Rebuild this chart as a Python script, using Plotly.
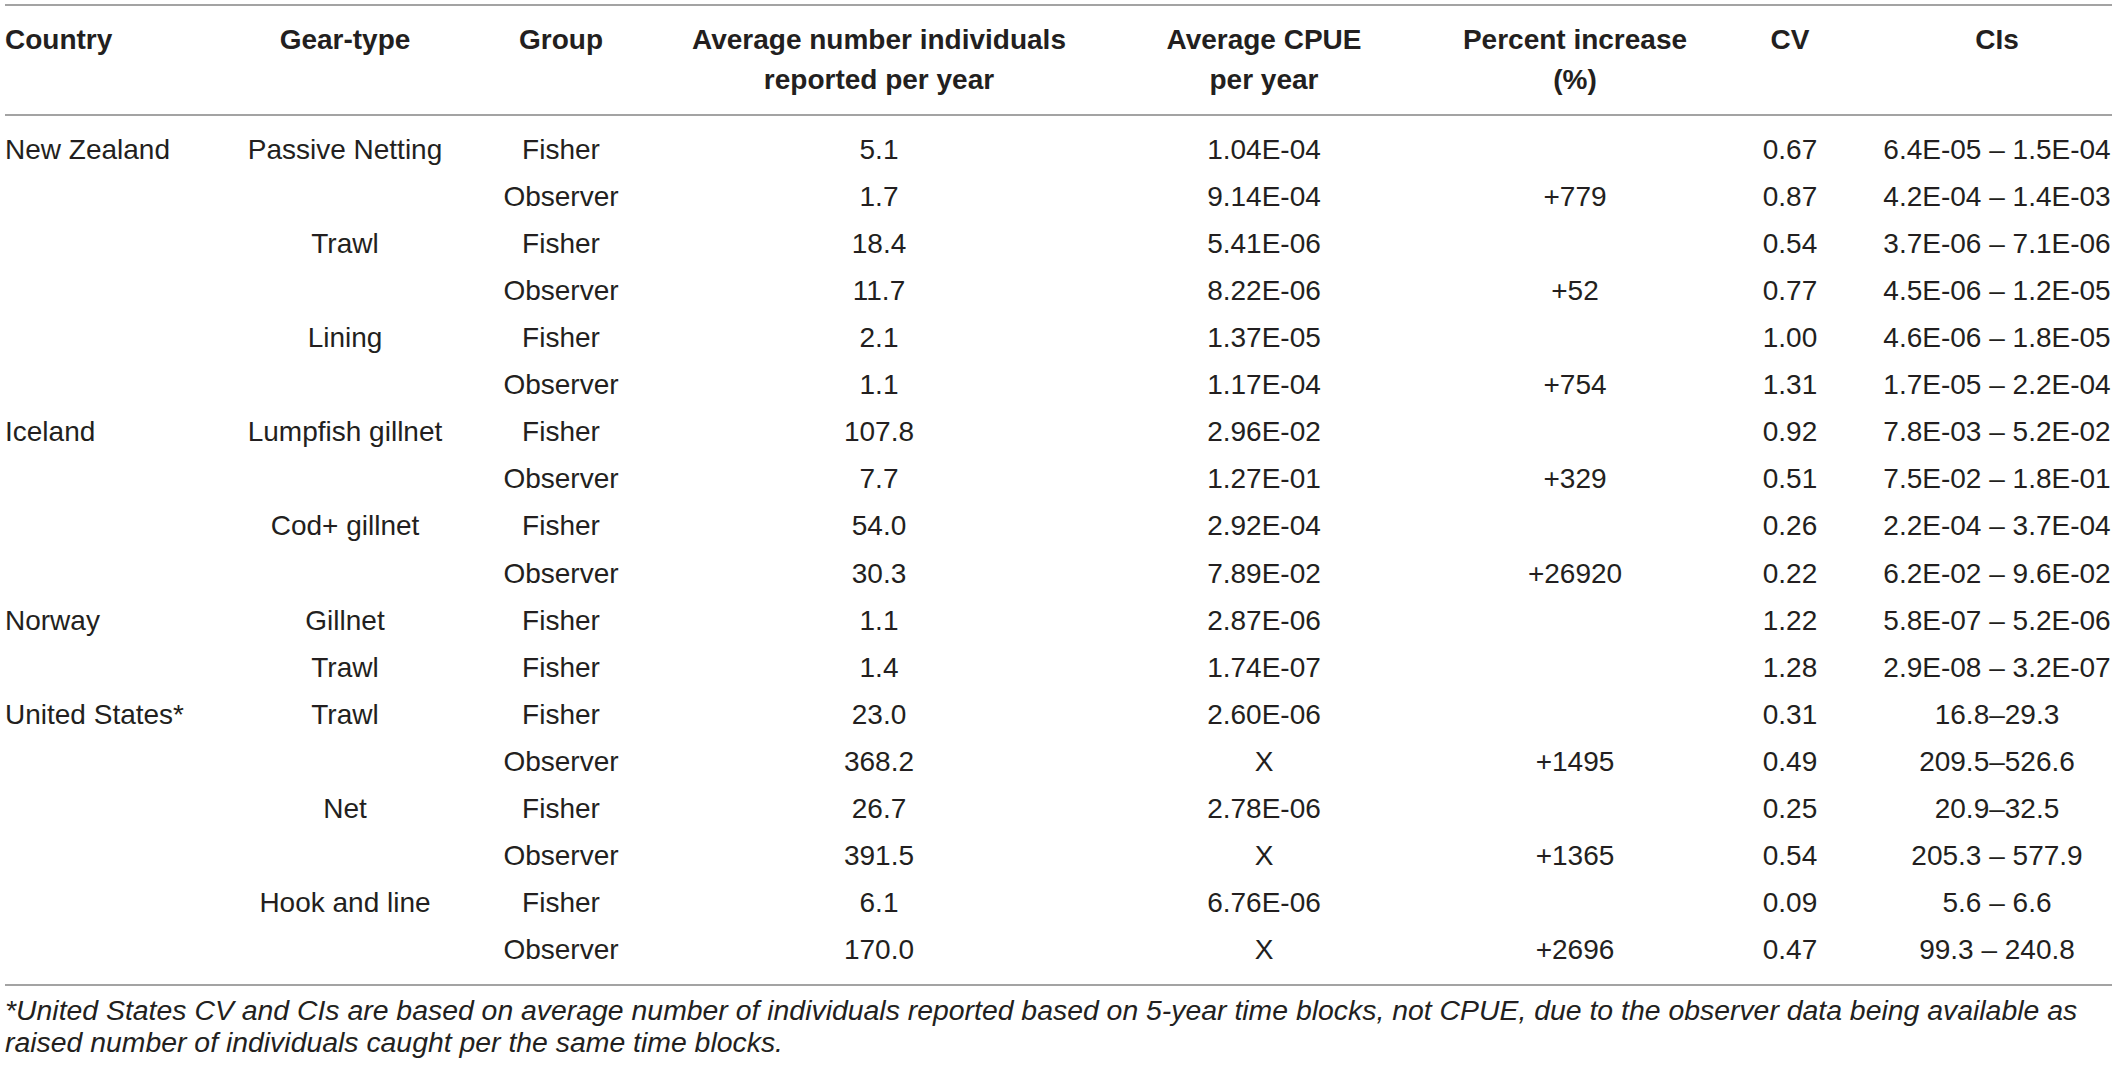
import plotly.graph_objects as go

# Table contents
headers = ["Country", "Gear-type", "Group", "Average number individuals<br>reported per year",
           "Average CPUE<br>per year", "Percent increase<br>(%)", "CV", "CIs"]

country = ["New Zealand", "", "", "", "", "", "Iceland", "", "", "", "Norway", "",
           "United States*", "", "", "", "", ""]
gear = ["Passive Netting", "", "Trawl", "", "Lining", "", "Lumpfish gillnet", "",
        "Cod+ gillnet", "", "Gillnet", "Trawl", "Trawl", "", "Net", "", "Hook and line", ""]
group = ["Fisher", "Observer", "Fisher", "Observer", "Fisher", "Observer", "Fisher", "Observer",
         "Fisher", "Observer", "Fisher", "Fisher", "Fisher", "Observer", "Fisher", "Observer",
         "Fisher", "Observer"]
avg_individuals = ["5.1", "1.7", "18.4", "11.7", "2.1", "1.1", "107.8", "7.7", "54.0", "30.3",
                   "1.1", "1.4", "23.0", "368.2", "26.7", "391.5", "6.1", "170.0"]
avg_cpue = ["1.04E-04", "9.14E-04", "5.41E-06", "8.22E-06", "1.37E-05", "1.17E-04", "2.96E-02",
            "1.27E-01", "2.92E-04", "7.89E-02", "2.87E-06", "1.74E-07", "2.60E-06", "X",
            "2.78E-06", "X", "6.76E-06", "X"]
pct_increase = ["", "+779", "", "+52", "", "+754", "", "+329", "", "+26920", "", "", "",
                "+1495", "", "+1365", "", "+2696"]
cv = ["0.67", "0.87", "0.54", "0.77", "1.00", "1.31", "0.92", "0.51", "0.26", "0.22", "1.22",
      "1.28", "0.31", "0.49", "0.25", "0.54", "0.09", "0.47"]
cis = ["6.4E-05 – 1.5E-04", "4.2E-04 – 1.4E-03", "3.7E-06 – 7.1E-06", "4.5E-06 – 1.2E-05",
       "4.6E-06 – 1.8E-05", "1.7E-05 – 2.2E-04", "7.8E-03 – 5.2E-02", "7.5E-02 – 1.8E-01",
       "2.2E-04 – 3.7E-04", "6.2E-02 – 9.6E-02", "5.8E-07 – 5.2E-06", "2.9E-08 – 3.2E-07",
       "16.8–29.3", "209.5–526.6", "20.9–32.5", "205.3 – 577.9", "5.6 – 6.6", "99.3 – 240.8"]

footnote = ["*United States CV and CIs are based on average number of individuals reported based on "
            "5-year time blocks, not CPUE, due to the observer data being available as",
            "raised number of individuals caught per the same time blocks."]

columns = [country, gear, group, avg_individuals, avg_cpue, pct_increase, cv, cis]

# layout in pixels
W, H = 2118, 1070
col_x = [5, 345, 561, 879, 1264, 1575, 1790, 1997]
row_y0, row_dy = 152, 47.06
rows_y = [row_y0 + i * row_dy for i in range(len(group))]
TXT = "#231f20"
LINE = "#a3a3a3"
FONT = "Liberation Sans, Arial, sans-serif"

fig = go.Figure()

for j, col in enumerate(columns):
    fig.add_trace(go.Scatter(
        x=[col_x[j]] * len(col), y=rows_y, text=col,
        mode="text", textposition="middle right" if j == 0 else "middle center",
        textfont=dict(family=FONT, size=28, color=TXT, weight=300),
        hoverinfo="skip", showlegend=False
    ))

# header cells (top aligned, split lines)
for j, h in enumerate(headers):
    lines = h.split("<br>")
    fig.add_trace(go.Scatter(
        x=[col_x[j]] * len(lines), y=[42 + 40 * k for k in range(len(lines))], text=lines,
        mode="text", textposition="middle right" if j == 0 else "middle center",
        textfont=dict(family=FONT, size=28, color=TXT, weight="bold"),
        hoverinfo="skip", showlegend=False
    ))

fig.add_trace(go.Scatter(
    x=[5, 5], y=[1013, 1045], text=footnote,
    mode="text", textposition="middle right",
    textfont=dict(family=FONT, size=28.4, color=TXT, style="italic", weight=300),
    hoverinfo="skip", showlegend=False
))

for yl in [5, 115, 985]:
    fig.add_shape(type="line", x0=5, x1=2112, y0=yl, y1=yl, xref="x", yref="y",
                  line=dict(color=LINE, width=2))

fig.update_xaxes(range=[0, W], visible=False, fixedrange=True)
fig.update_yaxes(range=[H, 0], visible=False, fixedrange=True)
fig.update_layout(
    width=W, height=H,
    margin=dict(l=0, r=0, t=0, b=0),
    plot_bgcolor="white", paper_bgcolor="white"
)

# drop the default page margin so the figure sits at 0,0
fig.write_html("out.html", config={"displayModeBar": False},
               post_script="document.body.style.margin='0';")
